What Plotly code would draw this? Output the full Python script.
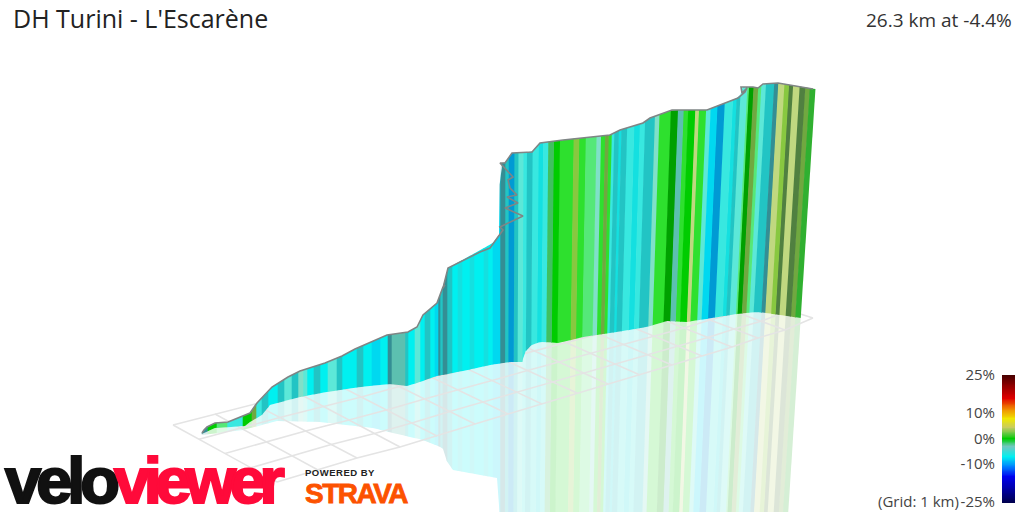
import numpy as np
import plotly.graph_objects as go

TITLE = "DH Turini - L'Escarène"
SUBTITLE = "26.3 km at -4.4%"

# Ridge of the elevation wall, as projected on the picture
ridge_x = [202,204,207,215,228,245,250,257,267,272,288,300,325,342,355,387,408,417,423,437,443,448,
           493,499,500,505,512,532,540,563,610,620,643,650,672,707,740,742,753,758,763,778,815]
ridge_y = [433,430,427,423,422,415,413,403,393,387,377,371,363,356,349,335,332,327,315,303,287,268,
           243,235,163,163,153,152,143,140,135,130,123,118,110,110,97,87,87,88,84,83,89]
# Drawn outline, including the hairpin zigzag and the small summit loop
outline_x = [202,204,207,215,228,245,250,257,267,272,288,300,325,342,355,387,408,417,423,437,443,445,443,448,
             480,490,497,499,503,500,523,505,518,507,517,510,508,513,500,505,512,532,540,563,610,620,643,650,
             672,707,738,745,747,742,741,753,758,763,778,813]
outline_y = [433,430,427,423,422,415,413,403,393,387,377,371,363,356,349,335,332,327,315,303,287,285,288,268,
             252,248,238,235,230,227,216,208,203,197,195,188,180,177,163,163,153,152,143,140,135,130,123,118,
             110,110,98,92,88,93,87,87,88,84,83,89]
# Foot of the wall on the floor plane
floor_x = [202,215,245,250,262,270,300,327,360,390,407,417,437,448,477,490,510,523,527,540,560,583,617,647,667,687,737,757,773,800]
floor_y = [434,428,426,422,415,405,397,392,387,384,386,383,376,374,368,365,362,362,347,342,343,337,332,327,321,322,314,312,314,318]
# Lower limit of the mirrored wall
mirror_x = [202,243,277,320,373,393,423,443,447,453,497,503,820]
mirror_y = [435,430,421,422,428,433,440,448,462,470,478,560,560]

# Colour strips: right end of each strip, and its colour class
strip_start = 202
strip_end = [208,217,227,243,252,256,262,268,278,284,292,298,303,307,314,320,328,337,342,350,357,363,372,380,388,392,405,
             408,415,420,425,430,435,438,440,443,447,452,458,462,470,474,484,488,493,500,502,505,509,514,518,523,527,532,538,
             543,548,553,559,573,578,583,585,595,600,604,607,610,613,617,620,625,632,638,643,648,652,657,668,675,680,685,692,
             695,702,707,713,720,728,732,735,742,743,748,752,755,760,763,768,772,778,782,786,793,798,803,808]
strip_kind = ["T","G","m","C","G","O","C","t","c","t","l","t","p","l","c","t","c","l","t","c","c","t","c","s","c","T","q",
              "t","c","l","c","t","c","s","T","t","T","t","c","f","c","f","c","f","c","s","T","T","t","b","t","l","C","t","C",
              "f","C","e","G","g","y","g","g","m","p","g","O","g","C","t","f","t","C","f","C","t","t","p","g","d","q","g","G",
              "o","g","l","s","b","C","f","t","l","m","d","O","m","l","t","t","T","o","y","D","o","D","O","h"]
kind_colors = {"c":"#00f0f0","f":"#14e0e0","C":"#38e8e0","l":"#5ce8d8","p":"#80e0c8","t":"#22c4c4","T":"#348e94","b":"#009ad4","s":"#00d8f0",
               "g":"#2ee02e","G":"#00cc00","d":"#00a000","m":"#55e878","e":"#40c060","o":"#c0d880","O":"#70a840","D":"#508040",
               "y":"#88c840","q":"#5cc0b0","h":"#30b030"}

# Perspective floor grid: ends of the cross lines on the front and back edges
grid_front_x = [277,318,357,400,437,475,508,542,577,608,640,672,702,732,758,785,813]
grid_front_y = [482,470,458,447,436,424,414,404,393,384,375,365,356,347,338,330,318]
grid_back_x = [173,215,254,298,336,374,408,442,478,510,542,575,605,636,662,689,718]
grid_back_y = [425,414,404,393,384,374,366,357,348,340,332,324,316,309,302,295,288]
grid_rows = [0,0.25,0.5,0.75,1]

# Gradient colour key
legend_grades = list(range(-25, 26))
legend_ticks = [25,10,0,-10,-25]
legend_labels = ["25%","10%","0%","-10%","-25%"]
GRID_NOTE = "(Grid: 1 km)"
key_stops = [(-25,"#000050"),(-15,"#0000f0"),(-11,"#0080ff"),(-7,"#00f0f0"),(-3,"#70c8c0"),(-1,"#20cc40"),(0,"#00cc00"),
             (2,"#60c840"),(4.5,"#c8cc60"),(8,"#f0e800"),(12,"#f08000"),(16,"#e00000"),(21,"#900000"),(25,"#4a0000")]


def lighten(col, f=0.8):
    r, g, b = [int(col[i:i+2], 16) for i in (1, 3, 5)]
    return "#%02x%02x%02x" % tuple(int(c + (255 - c) * f) for c in (r, g, b))


def lean(ref):
    return -0.065 * max(0.0, ref - 500) / 312


def on_curve(ref, xs, ys):
    x = ref
    for _ in range(4):
        y = float(np.interp(x, xs, ys))
        x = ref + lean(ref) * (y - 200)
    return x, y


walls = {k: ([], []) for k in kind_colors}
mirrors = {k: ([], []) for k in kind_colors}
left = strip_start
for end, kind in zip(strip_end, strip_kind):
    inner = sorted({v for v in ridge_x + floor_x + mirror_x if left < v < end})
    refs = [left - 0.3] + inner + [end + 0.3]
    top = [on_curve(r, ridge_x, ridge_y) for r in refs]
    foot = [on_curve(r, floor_x, floor_y) for r in refs]
    low = [on_curve(r, mirror_x, mirror_y) for r in refs]
    wx, wy = walls[kind]
    wx += [p[0] for p in top] + [p[0] for p in foot[::-1]] + [None]
    wy += [p[1] for p in top] + [p[1] for p in foot[::-1]] + [None]
    mx, my = mirrors[kind]
    mx += [p[0] for p in foot] + [p[0] for p in low[::-1]] + [None]
    my += [p[1] for p in foot] + [p[1] for p in low[::-1]] + [None]
    left = end

fig = go.Figure()
for k, (x, y) in mirrors.items():
    if x:
        fig.add_trace(go.Scatter(x=x, y=y, mode="lines", fill="toself", fillcolor=lighten(kind_colors[k]),
                                 line=dict(width=0), hoverinfo="skip", showlegend=False))
gx, gy = [], []
for fx, fy, bx, by in zip(grid_front_x, grid_front_y, grid_back_x, grid_back_y):
    gx += [fx, bx, None]
    gy += [fy, by, None]
for t in grid_rows:
    gx += [b + (f - b) * t for f, b in zip(grid_front_x, grid_back_x)] + [None]
    gy += [b + (f - b) * t for f, b in zip(grid_front_y, grid_back_y)] + [None]
fig.add_trace(go.Scatter(x=gx, y=gy, mode="lines", line=dict(color="#e4e4e4", width=1.5),
                         hoverinfo="skip", showlegend=False))
for k, (x, y) in walls.items():
    if x:
        fig.add_trace(go.Scatter(x=x, y=y, mode="lines", fill="toself", fillcolor=kind_colors[k],
                                 line=dict(width=0), hoverinfo="skip", showlegend=False))
fig.add_trace(go.Scatter(x=outline_x, y=outline_y, mode="lines", line=dict(color="#7f8585", width=1.6),
                         hoverinfo="skip", showlegend=False))

lo, hi = legend_grades[0], legend_grades[-1]
fig.add_trace(go.Heatmap(x=[0], y=legend_grades, z=[[g] for g in legend_grades], xaxis="x2", yaxis="y2",
                         zmin=lo, zmax=hi, showscale=False, hoverinfo="skip", zsmooth="best",
                         colorscale=[[(g - lo) / (hi - lo), c] for g, c in key_stops]))

W, H = 1024, 512
font = "Open Sans, Noto Sans, sans-serif"
fig.update_layout(
    width=W, height=H, autosize=False,
    margin=dict(l=0, r=0, t=0, b=0), paper_bgcolor="white", plot_bgcolor="rgba(0,0,0,0)",
    showlegend=False,
    title=dict(text=TITLE, x=13 / W, xanchor="left", xref="paper", y=1 - 19 / H, yanchor="middle",
               font=dict(family=font, size=25, color="#222")),
    xaxis=dict(range=[0, W], visible=False, domain=[0, 1], fixedrange=True, automargin=False),
    yaxis=dict(range=[H, 0], visible=False, domain=[0, 1], fixedrange=True, automargin=False),
    xaxis2=dict(domain=[1002 / W, 1015 / W], visible=False, anchor="y2", range=[-0.5, 0.5], automargin=False),
    yaxis2=dict(domain=[1 - 503 / H, 1 - 375 / H], anchor="x2", range=[-25.5, 25], tickmode="array", automargin=False,
                tickvals=legend_ticks, ticktext=legend_labels, ticks="outside", ticklen=3, tickcolor="rgba(0,0,0,0)",
                showgrid=False, zeroline=False, showline=False, tickfont=dict(family=font, size=15, color="#444")),
    annotations=[
        dict(text=SUBTITLE, xref="x", yref="y", x=1014, y=20, xanchor="right", yanchor="middle", showarrow=False,
             font=dict(family=font, size=19, color="#333")),
        dict(text=GRID_NOTE, xref="x", yref="y", x=961, y=501, xanchor="right", yanchor="middle", showarrow=False,
             font=dict(family=font, size=15, color="#444")),
        dict(text="velo", xref="x", yref="y", x=3, y=480, xanchor="left", yanchor="middle", showarrow=False, align="left",
             font=dict(family="Liberation Sans", size=65, color="#111111", weight=700)),
        dict(text="viewer", xref="x", yref="y", x=112, y=480, xanchor="left", yanchor="middle", showarrow=False, align="left",
             font=dict(family="Liberation Sans", size=65, color="#ff0a3a", weight=700)),
        dict(text="POWERED BY", xref="x", yref="y", x=303, y=472, xanchor="left", yanchor="middle", showarrow=False, align="left",
             font=dict(family="Liberation Sans", size=9.5, color="#222", weight=700)),
        dict(text="STRAVA", xref="x", yref="y", x=303, y=493, xanchor="left", yanchor="middle", showarrow=False, align="left",
             font=dict(family="Liberation Sans", size=28, color="#fc5200", weight=700)),
    ],
)

post = """
document.body.style.margin='0';
var spec = {'velo':[-5,2.2],'viewer':[-6.3,2.2],'POWERED BY':[0.5,0],'STRAVA':[-1.5,0.8]};
document.querySelectorAll('.annotation-text').forEach(function(t){
  var s = spec[t.textContent];
  if(!s) return;
  t.style.letterSpacing = s[0]+'px';
  if(s[1]>0){ t.style.stroke = getComputedStyle(t).fill; t.style.strokeWidth = s[1]+'px'; }
});
"""
fig.write_html("out.html", post_script=post, config=dict(displayModeBar=False))
